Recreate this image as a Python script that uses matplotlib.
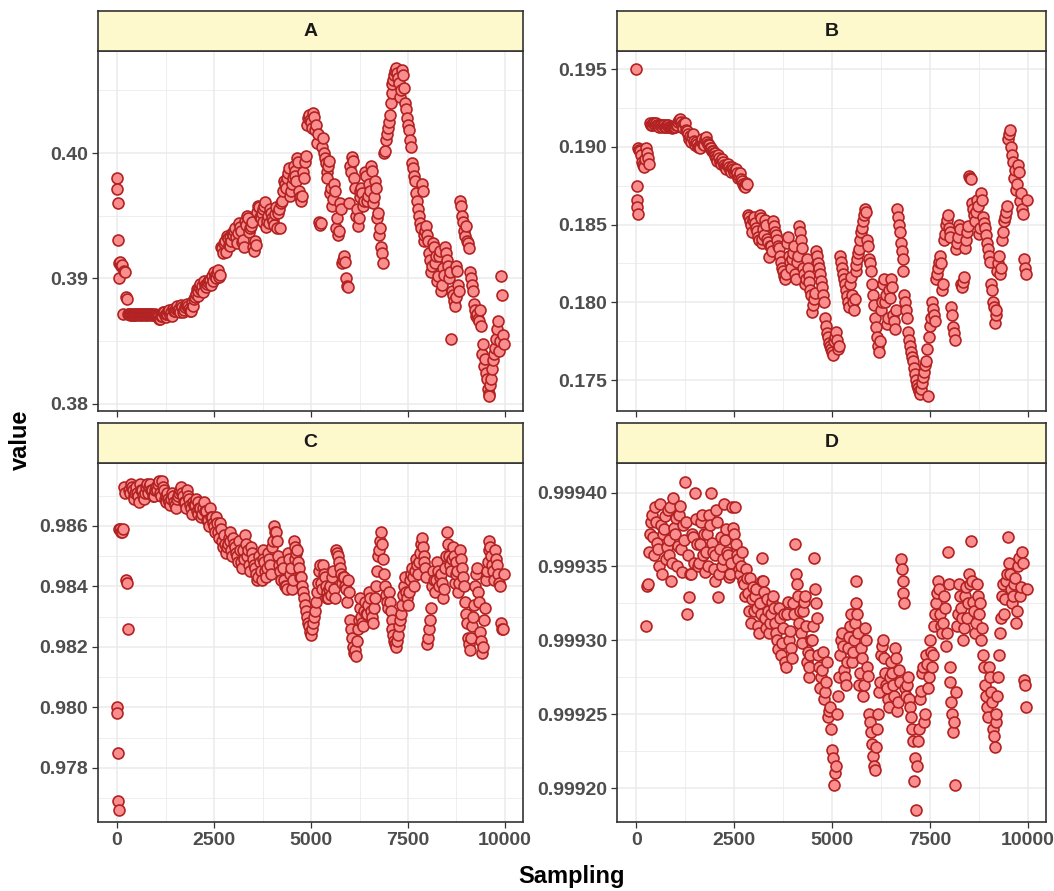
import numpy as np
import matplotlib.pyplot as plt
from matplotlib.ticker import FixedLocator, FormatStrFormatter

nan = np.nan

# sampling index: the first draws at full resolution, then every 25th draw
sampling = np.concatenate([np.arange(0, 50, 10), np.arange(50, 10000, 25)])

panels = ['A', 'B', 'C', 'D']

value_a = [
    0.3980, 0.3971, 0.3960, 0.3931, 0.3900,
    0.3912, 0.3913, 0.3910, 0.3911, 0.3872, 0.3906, 0.3905, 0.3885, 0.3884,
    0.3872, 0.3872, 0.3871, 0.3872, 0.3871, 0.3872, 0.3871, 0.3871, 0.3872,
    0.3872, 0.3871, 0.3872, 0.3872, 0.3871, 0.3872, 0.3871, 0.3872, 0.3872, 0.3871,
    0.3872, 0.3871, 0.3872, 0.3872, 0.3871, 0.3872, 0.3872, 0.3871, 0.3871, 0.3872,
    0.3871, 0.3870, 0.3869, 0.3868, 0.3868, 0.3870, 0.3870, 0.3873, 0.3873, 0.3871,
    0.3869, 0.3872, 0.3872, 0.3874, 0.3875, 0.3871, 0.3873, 0.3870, 0.3876, 0.3874,
    0.3874, 0.3876, 0.3878, 0.3875, 0.3876, 0.3873, 0.3879, 0.3877, 0.3873, 0.3875,
    0.3877, 0.3879, 0.3880, 0.3878, 0.3876, 0.3874, 0.3874, 0.3881, 0.3878, 0.3884,
    0.3885, 0.3888, 0.3892, 0.3886, 0.3890, 0.3893, 0.3896, 0.3891, 0.3894, 0.3889,
    0.3898, 0.3895, 0.3893, 0.3896, 0.3897, 0.3899, 0.3899, 0.3895, 0.3902, 0.3898,
    0.3905, 0.3902, 0.3900, 0.3904, 0.3907, 0.3901, 0.3903, 0.3925, 0.3924, 0.3920,
    0.3928, 0.3930, 0.3921, 0.3934, 0.3932, 0.3927, 0.3926, 0.3933, 0.3930, 0.3936,
    0.3935, 0.3938, 0.3940, 0.3933, 0.3928, 0.3936, 0.3944, 0.3941, 0.3938, 0.3929,
    0.3931, 0.3925, 0.3946, 0.3943, 0.3950, 0.3948, 0.3937, 0.3940, 0.3942, 0.3945,
    0.3925, 0.3922, 0.3930, 0.3927, 0.3953, 0.3958, 0.3957, 0.3949, 0.3948, 0.3952,
    0.3945, 0.3955, 0.3958, 0.3961, 0.3941, 0.3946, 0.3950, 0.3944, 0.3955, 0.3952,
    0.3948, 0.3946, 0.3943, 0.3951, 0.3957, 0.3940, 0.3952, 0.3955, 0.3940, 0.3960,
    0.3962, 0.3970, 0.3978, 0.3975, 0.3972, 0.3980, 0.3984, 0.3988, 0.3966, 0.3970,
    0.3975, 0.3980, 0.3990, 0.3986, 0.3982, 0.3978, 0.3996, 0.3993, 0.3970, 0.3965,
    0.3962, 0.3966, 0.3985, 0.3980, 0.3993, 0.3998, 0.4022, 0.4028, 0.4030, 0.4026,
    0.4025, 0.4020, 0.4032, 0.4029, 0.4018, 0.4022, 0.4008, 0.4015, 0.3945, 0.3943,
    0.3944, 0.4005, 0.4012, 0.4000, 0.3996, 0.3992, 0.3985, 0.3980, 0.3990, 0.3994,
    0.3968, 0.3972, 0.3958, 0.3963, 0.3975, 0.3970, 0.3940, 0.3948, 0.3935, 0.3938,
    0.3960, 0.3955, 0.3912, 0.3915, 0.3918, 0.3913, 0.3900, 0.3894, 0.3893, 0.3960,
    0.3990, 0.3985, 0.3997, 0.3994, 0.3980, 0.3972, 0.3950, 0.3955, 0.3942, 0.3948,
    0.3965, 0.3970, 0.3972, 0.3968, 0.3958, 0.3962, 0.3985, 0.3982, 0.3962, 0.3966,
    0.3975, 0.3970, 0.3990, 0.3986, 0.3960, 0.3965, 0.3978, 0.3972, 0.3948, 0.3952,
    0.3935, 0.3940, 0.3925, 0.3920, 0.3912, 0.4000, 0.4002, 0.4010, 0.4015, 0.4020,
    0.4025, 0.4030, 0.4040, 0.4048, 0.4055, 0.4058, 0.4062, 0.4065, 0.4068, 0.4064,
    0.4060, 0.4056, 0.4045, 0.4050, 0.4066, 0.4062, 0.4052, 0.4040, 0.4035, 0.4028,
    0.4022, 0.4018, 0.4010, 0.4005, 0.3992, 0.3988, 0.3982, 0.3978, 0.3968, 0.3962,
    0.3955, 0.3950, 0.3944, 0.3940, 0.3975, 0.3970, 0.3930, 0.3935, 0.3938, 0.3942,
    0.3935, 0.3930, 0.3920, 0.3915, 0.3905, 0.3910, 0.3928, 0.3925, 0.3912, 0.3918,
    0.3898, 0.3902, 0.3918, 0.3922, 0.3890, 0.3895, 0.3908, 0.3903, 0.3925, 0.3920,
    0.3915, 0.3910, 0.3900, 0.3905, 0.3852, 0.3890, 0.3887, 0.3882, 0.3878, 0.3885,
    0.3910, 0.3906, 0.3895, 0.3890, 0.3962, 0.3958, 0.3950, 0.3945, 0.3938, 0.3934,
    0.3942, 0.3930, 0.3928, 0.3924, 0.3905, 0.3900, 0.3895, 0.3890, 0.3880, 0.3875,
    0.3870, 0.3872, 0.3868, 0.3866, 0.3875, 0.3862, 0.3840, 0.3848, 0.3830, 0.3836,
    0.3825, 0.3820, 0.3812, 0.3808, 0.3806, 0.3815, 0.3820, 0.3828, 0.3835, 0.3840,
    0.3845, 0.3852, 0.3860, 0.3866, 0.3842, 0.3850, 0.3902, 0.3887, 0.3855, 0.3848,
]

value_b = [
    0.1950, 0.1875, 0.1866, 0.1861, 0.1857,
    0.1899, 0.1898, 0.1897, 0.1895, 0.1890, 0.1888, 0.1887, 0.1892, 0.1899,
    0.1896, 0.1893, 0.1889, 0.1915, 0.1914, 0.1914, 0.1915, 0.1915, 0.1914,
    0.1915, 0.1914, 0.1914, 0.1913, 0.1914, 0.1914, 0.1913, 0.1914, 0.1914, 0.1913,
    0.1913, 0.1914, 0.1914, 0.1913, 0.1913, 0.1913, 0.1913, 0.1912, 0.1913, 0.1913,
    0.1913, 0.1914, 0.1914, 0.1916, 0.1917, 0.1918, 0.1916, 0.1914, 0.1912, 0.1915,
    0.1915, 0.1911, 0.1910, 0.1908, 0.1905, 0.1907, 0.1903, 0.1906, 0.1908, 0.1904,
    0.1901, 0.1903, 0.1902, 0.1900, 0.1900, 0.1899, 0.1904, 0.1905, 0.1902, 0.1901,
    0.1905, 0.1906, 0.1903, 0.1902, 0.1901, 0.1899, 0.1899, 0.1897, 0.1897, 0.1896,
    0.1896, 0.1894, 0.1893, 0.1891, 0.1895, 0.1893, 0.1890, 0.1889, 0.1892, 0.1890,
    0.1888, 0.1887, 0.1886, 0.1888, 0.1889, 0.1887, 0.1885, 0.1884, 0.1887, 0.1886,
    0.1884, 0.1885, 0.1886, 0.1883, 0.1880, 0.1881, 0.1883, 0.1879, 0.1878, 0.1876,
    0.1875, 0.1874, 0.1877, 0.1876, 0.1856, 0.1855, 0.1852, 0.1850, 0.1845, 0.1853,
    0.1855, 0.1851, 0.1848, 0.1846, 0.1842, 0.1840, 0.1856, 0.1854, 0.1838, 0.1841,
    0.1847, 0.1843, 0.1853, 0.1850, 0.1841, 0.1839, 0.1829, 0.1836, 0.1836, 0.1833,
    0.1852, 0.1849, 0.1845, 0.1843, 0.1840, 0.1836, 0.1835, 0.1830, 0.1826, 0.1822,
    0.1820, 0.1817, 0.1815, 0.1818, 0.1838, 0.1842, 0.1830, 0.1826, 0.1822, 0.1828,
    0.1832, 0.1836, 0.1818, 0.1815, 0.1826, 0.1830, 0.1849, 0.1845, 0.1840, 0.1835,
    0.1822, 0.1818, 0.1812, 0.1815, 0.1828, 0.1822, 0.1817, 0.1813, 0.1808, 0.1805,
    0.1794, 0.1798, 0.1802, 0.1806, 0.1833, 0.1830, 0.1825, 0.1822, 0.1818, 0.1814,
    0.1810, 0.1805, 0.1800, 0.1790, 0.1785, 0.1780, 0.1778, 0.1774, 0.1772, 0.1770,
    0.1768, 0.1766, 0.1775, 0.1778, 0.1781, 0.1776, 0.1770, 0.1772, 0.1830, 0.1826,
    0.1822, 0.1818, 0.1815, 0.1812, 0.1808, 0.1804, 0.1800, 0.1797, 0.1812, 0.1816,
    0.1805, 0.1800, 0.1795, 0.1802, 0.1820, 0.1824, 0.1828, 0.1832, 0.1834, 0.1840,
    0.1845, 0.1848, 0.1852, 0.1856, 0.1860, 0.1858, 0.1840, 0.1836, 0.1828, 0.1825,
    0.1820, 0.1812, 0.1805, 0.1798, 0.1790, 0.1784, 0.1778, 0.1772, 0.1768, 0.1775,
    0.1795, 0.1800, 0.1812, 0.1815, 0.1800, 0.1805, 0.1786, 0.1790, 0.1808, 0.1803,
    0.1815, 0.1810, 0.1792, 0.1788, 0.1783, 0.1795, 0.1860, 0.1855, 0.1850, 0.1845,
    0.1838, 0.1833, 0.1828, 0.1820, 0.1805, 0.1800, 0.1795, 0.1790, 0.1781, 0.1776,
    0.1772, 0.1768, 0.1765, 0.1762, 0.1758, 0.1754, 0.1750, 0.1747, 0.1745, 0.1743,
    0.1741, 0.1744, 0.1748, 0.1752, 0.1755, 0.1760, 0.1762, 0.1770, 0.1740, 0.1778,
    0.1785, 0.1790, 0.1800, 0.1796, 0.1792, 0.1788, 0.1815, 0.1818, 0.1822, 0.1826,
    0.1830, 0.1825, 0.1808, 0.1812, 0.1840, 0.1844, 0.1850, 0.1853, 0.1856, 0.1848,
    0.1845, 0.1842, 0.1797, 0.1792, 0.1784, 0.1780, 0.1776, 0.1834, 0.1838, 0.1842,
    0.1850, 0.1847, 0.1812, 0.1810, 0.1813, 0.1816, 0.1835, 0.1840, 0.1845, 0.1849,
    0.1881, 0.1880, 0.1879, 0.1864, 0.1860, 0.1856, 0.1852, 0.1858, 0.1866, 0.1862,
    0.1844, 0.1848, 0.1870, 0.1866, 0.1855, 0.1851, 0.1848, 0.1843, 0.1838, 0.1834,
    0.1830, 0.1826, 0.1812, 0.1808, 0.1800, 0.1797, 0.1787, 0.1792, 0.1795, 0.1820,
    0.1825, 0.1830, 0.1818, 0.1822, 0.1840, 0.1845, 0.1852, 0.1855, 0.1858, 0.1862,
    0.1905, 0.1908, 0.1911, 0.1900, 0.1895, 0.1890, 0.1880, 0.1885, 0.1872, 0.1876,
    0.1888, 0.1884, 0.1865, 0.1870, 0.1860, 0.1857, 0.1828, 0.1822, 0.1818, 0.1866,
]

value_c = [
    0.9800, 0.9798, 0.9785, 0.9769, 0.9766,
    0.9859, 0.9859, 0.9858, 0.9858, 0.9859, 0.9873, 0.9871, 0.9842, 0.9841,
    0.9826, 0.9872, 0.9871, 0.9874, 0.9873, 0.9872, 0.9870, 0.9869, 0.9871,
    0.9873, 0.9871, 0.9870, 0.9868, 0.9874, 0.9872, 0.9872, 0.9870, 0.9869, 0.9871,
    0.9873, 0.9874, 0.9871, 0.9873, 0.9874, 0.9872, 0.9872, 0.9870, 0.9870, 0.9872,
    0.9873, 0.9872, 0.9874, 0.9875, 0.9871, 0.9870, 0.9875, 0.9873, 0.9872, 0.9869,
    0.9870, 0.9868, 0.9871, 0.9869, 0.9868, 0.9867, 0.9869, 0.9871, 0.9870, 0.9868,
    0.9867, 0.9866, 0.9869, 0.9870, 0.9871, 0.9872, 0.9873, 0.9871, 0.9870, 0.9868,
    0.9868, 0.9866, 0.9872, 0.9870, 0.9869, 0.9867, 0.9866, 0.9864, 0.9868, 0.9867,
    0.9867, 0.9869, 0.9865, 0.9864, 0.9868, 0.9866, 0.9866, 0.9863, 0.9864, 0.9866,
    0.9868, 0.9865, 0.9865, 0.9862, 0.9862, 0.9860, 0.9866, 0.9863, 0.9863, 0.9861,
    0.9860, 0.9858, 0.9863, 0.9861, 0.9858, 0.9856, 0.9861, 0.9859, 0.9855, 0.9853,
    0.9857, 0.9854, 0.9851, 0.9853, 0.9854, 0.9856, 0.9858, 0.9855, 0.9852, 0.9850,
    0.9856, 0.9854, 0.9853, 0.9851, 0.9850, 0.9848, 0.9855, 0.9852, 0.9848, 0.9846,
    0.9852, 0.9849, 0.9857, 0.9854, 0.9850, 0.9852, 0.9847, 0.9845, 0.9853, 0.9851,
    0.9849, 0.9847, 0.9846, 0.9844, 0.9842, 0.9843, 0.9850, 0.9848, 0.9845, 0.9842,
    0.9852, 0.9849, 0.9848, 0.9845, 0.9843, 0.9846, 0.9851, 0.9849, 0.9847, 0.9844,
    0.9853, 0.9855, 0.9860, 0.9858, 0.9858, 0.9855, 0.9850, 0.9847, 0.9845, 0.9842,
    0.9848, 0.9846, 0.9842, 0.9840, 0.9840, 0.9839, 0.9851, 0.9849, 0.9844, 0.9846,
    0.9839, 0.9842, 0.9855, 0.9853, 0.9849, 0.9851, 0.9852, 0.9848, 0.9846, 0.9843,
    0.9843, 0.9840, 0.9838, 0.9836, 0.9834, 0.9832, 0.9830, 0.9828, 0.9827, 0.9825,
    0.9824, 0.9826, 0.9828, 0.9830, 0.9832, 0.9835, 0.9838, 0.9841, 0.9845, 0.9847,
    0.9841, 0.9839, 0.9847, 0.9844, 0.9843, 0.9840, 0.9838, 0.9836, 0.9836, 0.9839,
    0.9840, 0.9837, 0.9843, 0.9845, 0.9839, 0.9836, 0.9852, 0.9851, 0.9850, 0.9848,
    0.9846, 0.9844, 0.9841, 0.9843, 0.9843, 0.9840, 0.9839, 0.9835, 0.9842, 0.9838,
    0.9829, 0.9826, 0.9823, 0.9820, 0.9818, 0.9819, 0.9817, 0.9822, 0.9826, 0.9829,
    0.9833, 0.9836, 0.9830, 0.9828, 0.9827, 0.9832, 0.9835, 0.9831, 0.9831, 0.9834,
    0.9838, 0.9836, 0.9832, 0.9830, 0.9828, 0.9833, 0.9836, 0.9840, 0.9845, 0.9850,
    0.9852, 0.9855, 0.9858, 0.9854, 0.9849, 0.9844, 0.9840, 0.9837, 0.9835, 0.9833,
    0.9838, 0.9835, 0.9832, 0.9829, 0.9826, 0.9824, 0.9822, 0.9821, 0.9820, 0.9822,
    0.9824, 0.9827, 0.9829, 0.9831, 0.9834, 0.9837, 0.9840, 0.9843, 0.9838, 0.9836,
    0.9834, 0.9838, 0.9842, 0.9844, 0.9846, 0.9843, 0.9840, 0.9845, 0.9849, 0.9847,
    0.9844, 0.9848, 0.9851, 0.9854, 0.9856, 0.9853, 0.9850, 0.9848, 0.9846, 0.9843,
    0.9821, 0.9823, 0.9826, 0.9829, 0.9833, 0.9840, 0.9845, 0.9842, 0.9838, 0.9842,
    0.9848, 0.9845, 0.9840, 0.9843, 0.9844, 0.9841, 0.9836, 0.9839, 0.9846, 0.9850,
    0.9858, 0.9854, 0.9850, 0.9847, 0.9845, 0.9849, 0.9853, 0.9850, 0.9841, 0.9844,
    0.9848, 0.9845, 0.9838, 0.9841, 0.9852, 0.9849, 0.9846, 0.9843, 0.9840, 0.9835,
    0.9831, 0.9828, 0.9823, 0.9821, 0.9819, 0.9823, 0.9827, 0.9830, 0.9834, 0.9840,
    0.9844, 0.9846, 0.9838, 0.9835, 0.9825, 0.9822, 0.9818, 0.9820, 0.9829, 0.9833,
    0.9842, 0.9845, 0.9848, 0.9852, 0.9855, 0.9853, 0.9850, 0.9847, 0.9845, 0.9842,
    0.9852, 0.9849, 0.9847, 0.9844, 0.9841, 0.9840, 0.9828, 0.9826, 0.9826, 0.9844,
]

value_d = [
    nan, nan, nan, nan, nan,
    nan, nan, nan, nan, nan, nan, nan, nan, 0.999310,
    0.999337, 0.999338, 0.999360, 0.999372, 0.999380, 0.999385, 0.999370, 0.999358, 0.999390,
    0.999380, 0.999366, 0.999362, 0.999350, 0.999392, 0.999378, 0.999345, 0.999372, 0.999375, 0.999384,
    0.999355, 0.999363, 0.999388, 0.999358, 0.999368, 0.999390, 0.999340, 0.999352, 0.999396, 0.999376,
    0.999372, 0.999383, 0.999350, 0.999364, 0.999385, 0.999391, 0.999362, 0.999346, 0.999378, 0.999368,
    0.999407, 0.999380, 0.999318, 0.999358, 0.999329, 0.999345, 0.999345, 0.999372, 0.999370, 0.999352,
    0.999400, 0.999382, 0.999365, 0.999350, 0.999352, 0.999365, 0.999380, 0.999385, 0.999358, 0.999372,
    0.999346, 0.999360, 0.999372, 0.999350, 0.999385, 0.999378, 0.999400, 0.999366, 0.999360, 0.999348,
    0.999340, 0.999358, 0.999388, 0.999380, 0.999329, 0.999345, 0.999362, 0.999370, 0.999350, 0.999355,
    0.999392, 0.999368, 0.999375, 0.999360, 0.999358, 0.999343, 0.999345, 0.999352, 0.999390, 0.999376,
    0.999372, 0.999390, 0.999365, 0.999358, 0.999355, 0.999348, 0.999345, 0.999350, 0.999360, 0.999340,
    0.999338, 0.999330, 0.999348, 0.999342, 0.999332, 0.999320, 0.999342, 0.999312, 0.999328, 0.999336,
    0.999320, 0.999330, 0.999335, 0.999322, 0.999310, 0.999305, 0.999325, 0.999318, 0.999356, 0.999340,
    0.999340, 0.999333, 0.999315, 0.999308, 0.999328, 0.999320, 0.999305, 0.999312, 0.999318, 0.999326,
    0.999330, 0.999322, 0.999312, 0.999305, 0.999300, 0.999294, 0.999322, 0.999315, 0.999290, 0.999298,
    0.999308, 0.999318, 0.999285, 0.999282, 0.999318, 0.999326, 0.999300, 0.999306, 0.999295, 0.999288,
    0.999325, 0.999318, 0.999365, 0.999345, 0.999338, 0.999330, 0.999312, 0.999320, 0.999305, 0.999298,
    0.999320, 0.999326, 0.999330, 0.999310, 0.999285, 0.999292, 0.999275, 0.999282, 0.999290, 0.999300,
    0.999300, 0.999310, 0.999356, 0.999335, 0.999325, 0.999315, 0.999290, 0.999282, 0.999268, 0.999275,
    0.999280, 0.999292, 0.999260, 0.999265, 0.999272, 0.999285, 0.999248, 0.999252, 0.999255, 0.999240,
    0.999226, 0.999220, 0.999202, 0.999210, 0.999215, 0.999250, 0.999262, 0.999275, 0.999290, 0.999300,
    0.999305, 0.999296, 0.999280, 0.999275, 0.999270, 0.999285, 0.999295, 0.999302, 0.999310, 0.999318,
    0.999285, 0.999292, 0.999300, 0.999312, 0.999340, 0.999325, 0.999318, 0.999305, 0.999270, 0.999278,
    0.999295, 0.999288, 0.999262, 0.999270, 0.999308, 0.999300, 0.999282, 0.999276, 0.999250, 0.999245,
    0.999238, 0.999230, 0.999222, 0.999215, 0.999212, 0.999228, 0.999240, 0.999250, 0.999265, 0.999272,
    0.999290, 0.999296, 0.999300, 0.999288, 0.999278, 0.999270, 0.999268, 0.999260, 0.999255, 0.999275,
    0.999285, 0.999278, 0.999270, 0.999262, 0.999295, 0.999288, 0.999252, 0.999258, 0.999280, 0.999272,
    0.999355, 0.999348, 0.999340, 0.999332, 0.999325, 0.999268, 0.999262, 0.999270, 0.999275, 0.999260,
    0.999255, 0.999248, 0.999240, 0.999232, 0.999205, 0.999220, 0.999185, 0.999215, 0.999232, 0.999240,
    0.999260, 0.999266, 0.999278, 0.999282, 0.999245, 0.999250, 0.999290, 0.999284, 0.999268, 0.999275,
    0.999300, 0.999292, 0.999282, 0.999290, 0.999310, 0.999318, 0.999325, 0.999332, 0.999340, 0.999335,
    0.999318, 0.999310, 0.999305, 0.999312, 0.999330, 0.999322, 0.999296, 0.999305, 0.999360, 0.999338,
    0.999282, 0.999272, 0.999258, 0.999250, 0.999238, 0.999245, 0.999202, 0.999265, 0.999310, 0.999318,
    0.999338, 0.999330, 0.999322, 0.999315, 0.999300, 0.999308, 0.999330, 0.999336, 0.999315, 0.999325,
    0.999345, 0.999338, 0.999367, 0.999340, 0.999326, 0.999320, 0.999305, 0.999312, 0.999338, 0.999330,
    0.999318, 0.999325, 0.999300, 0.999308, 0.999290, 0.999282, 0.999270, 0.999262, 0.999255, 0.999248,
    0.999282, 0.999275, 0.999265, 0.999258, 0.999240, 0.999235, 0.999228, 0.999245, 0.999250, 0.999262,
    0.999275, 0.999290, 0.999305, 0.999315, 0.999330, 0.999338, 0.999318, 0.999328, 0.999340, 0.999345,
    0.999370, 0.999352, 0.999345, 0.999335, 0.999325, 0.999330, 0.999338, 0.999342, 0.999312, 0.999320,
    0.999350, 0.999356, 0.999330, 0.999336, 0.999360, 0.999352, 0.999273, 0.999270, 0.999255, 0.999335,
]

values = [value_a, value_b, value_c, value_d]

x_ticks = [0, 2500, 5000, 7500, 10000]
x_minor = [1250, 3750, 6250, 8750]
y_ticks = [
    [0.38, 0.39, 0.40],
    [0.175, 0.180, 0.185, 0.190, 0.195],
    [0.978, 0.980, 0.982, 0.984, 0.986],
    [0.99920, 0.99925, 0.99930, 0.99935, 0.99940],
]
y_minor = [
    [0.385, 0.395, 0.405],
    [0.1775, 0.1825, 0.1875, 0.1925],
    [0.977, 0.979, 0.981, 0.983, 0.985, 0.987],
    [0.999225, 0.999275, 0.999325, 0.999375],
]
y_fmt = ['%.2f', '%.3f', '%.3f', '%.5f']
y_lims = [
    (0.37944, 0.40813),
    (0.17301, 0.19616),
    (0.97621, 0.98808),
    (0.999177, 0.999420),
]

plt.rcParams['font.family'] = ['Liberation Sans', 'DejaVu Sans']

fig = plt.figure(figsize=(10.54, 8.91), dpi=100)
W, H = 1054., 891.

# panel boxes in pixels: left, top, right, bottom
boxes = [
    (98, 51, 523, 411),
    (617, 51, 1046, 411),
    (98, 463, 523, 822),
    (617, 463, 1046, 822),
]
strip_h = 40

for i, (l, t, r, b) in enumerate(boxes):
    ax = fig.add_axes([l / W, 1 - b / H, (r - l) / W, (b - t) / H])
    ax.scatter(sampling, values[i], s=62, facecolor='#fa8e8e',
               edgecolor='#b22222', linewidth=1.2, zorder=3)
    ax.set_xlim(-490, 10464)
    ax.set_ylim(*y_lims[i])

    ax.xaxis.set_major_locator(FixedLocator(x_ticks))
    ax.xaxis.set_minor_locator(FixedLocator(x_minor))
    ax.yaxis.set_major_locator(FixedLocator(y_ticks[i]))
    ax.yaxis.set_minor_locator(FixedLocator(y_minor[i]))
    ax.yaxis.set_major_formatter(FormatStrFormatter(y_fmt[i]))
    ax.grid(which='major', color='#ebebeb', linewidth=1.1, zorder=0)
    ax.grid(which='minor', color='#ebebeb', linewidth=0.6, zorder=0)
    ax.set_axisbelow(True)

    ax.tick_params(which='major', length=4, width=0.9, color='#333333',
                   labelsize=14, labelcolor='#4d4d4d', pad=3)
    ax.tick_params(which='minor', length=0)
    for lab in ax.get_yticklabels() + ax.get_xticklabels():
        lab.set_fontweight('bold')
    if i < 2:
        ax.tick_params(axis='x', labelbottom=False)
    for sp in ax.spines.values():
        sp.set_color('#333333')
        sp.set_linewidth(1.2)

    # facet strip
    sx = fig.add_axes([l / W, 1 - t / H, (r - l) / W, strip_h / H])
    sx.set_facecolor('#fef8cd')
    sx.set_xticks([])
    sx.set_yticks([])
    for sp in sx.spines.values():
        sp.set_color('#333333')
        sp.set_linewidth(1.2)
    sx.text(0.5, 0.5, panels[i], ha='center', va='center', fontsize=14,
            fontweight='bold', color='#1a1a1a', transform=sx.transAxes)

fig.text(572 / W, 1 - 877 / H, 'Sampling', ha='center', va='center',
         fontsize=17, fontweight='bold', color='black')
fig.text(20 / W, 1 - 440 / H, 'value', ha='center', va='center',
         rotation=90, fontsize=17, fontweight='bold', color='black')

fig.savefig('out.png', dpi=100)
